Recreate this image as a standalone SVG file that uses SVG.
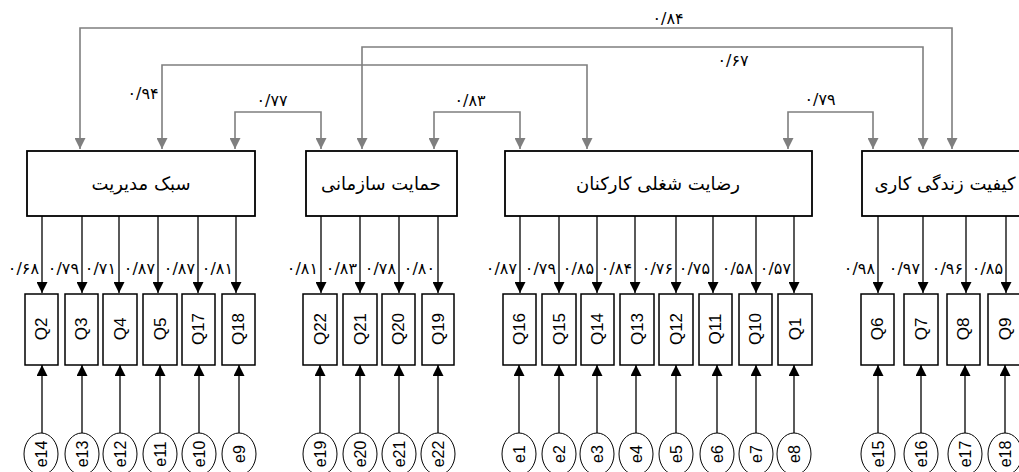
<svg xmlns="http://www.w3.org/2000/svg" width="1019" height="472" viewBox="0 0 1019 472">
<defs>
<marker id="ag" viewBox="0 0 10 10" refX="10" refY="5" markerWidth="11" markerHeight="11" markerUnits="userSpaceOnUse" orient="auto-start-reverse"><path d="M0,0 L10,5 L0,10 z" fill="#7f7f7f"/></marker>
<marker id="ab" viewBox="0 0 10 10" refX="10" refY="5" markerWidth="11" markerHeight="11" markerUnits="userSpaceOnUse" orient="auto"><path d="M0,0 L10,5 L0,10 z" fill="#000"/></marker>
</defs>
<style>
.cor{fill:none;stroke:#7f7f7f;stroke-width:1.6;marker-start:url(#ag);marker-end:url(#ag)}
.ld{fill:none;stroke:#000;stroke-width:1.3;marker-end:url(#ab)}
.fac{fill:#fff;stroke:#000;stroke-width:1.8}
.q{fill:#fff;stroke:#000;stroke-width:1.5}
.e{fill:#fff;stroke:#000;stroke-width:1}
.num{font-family:"DejaVu Sans",sans-serif;font-size:16px;fill:#000}
.title{font-family:"DejaVu Sans",sans-serif;font-size:18px;fill:#000;text-anchor:middle}
.ql{font-family:"Liberation Sans",Arial,sans-serif;font-size:17px;fill:#000;text-anchor:middle}
.el{font-family:"Liberation Sans",Arial,sans-serif;font-size:16px;fill:#000;text-anchor:middle}
</style>
<rect width="1019" height="472" fill="#fff"/>

<g id="connectors">
<path class="cor" d="M80,149 V28 H952 V149"/>
<path class="cor" d="M362,149 V47 H923 V149"/>
<path class="cor" d="M162,149 V65 H587 V149"/>
<path class="cor" d="M235,149 V112 H321 V149"/>
<path class="cor" d="M434,149 V112 H520 V149"/>
<path class="cor" d="M788,149 V112 H873 V149"/>
<text class="num" x="668" y="24" text-anchor="middle">۰/۸۴</text>
<text class="num" x="733" y="66" text-anchor="middle">۰/۶۷</text>
<text class="num" x="820" y="105" text-anchor="middle">۰/۷۹</text>
<text class="num" x="143" y="99" text-anchor="middle">۰/۹۴</text>
<text class="num" x="272" y="106" text-anchor="middle">۰/۷۷</text>
<text class="num" x="470" y="106" text-anchor="middle">۰/۸۳</text>

<path class="ld" d="M42,216 V293"/>
<path class="ld" d="M82,216 V293"/>
<path class="ld" d="M119,216 V293"/>
<path class="ld" d="M158,216 V293"/>
<path class="ld" d="M198,216 V293"/>
<path class="ld" d="M236,216 V293"/>
<path class="ld" d="M321,216 V293"/>
<path class="ld" d="M360,216 V293"/>
<path class="ld" d="M399,216 V293"/>
<path class="ld" d="M438,216 V293"/>
<path class="ld" d="M520,216 V293"/>
<path class="ld" d="M559,216 V293"/>
<path class="ld" d="M597,216 V293"/>
<path class="ld" d="M635,216 V293"/>
<path class="ld" d="M676,216 V293"/>
<path class="ld" d="M713,216 V293"/>
<path class="ld" d="M756,216 V293"/>
<path class="ld" d="M794,216 V293"/>
<path class="ld" d="M878,216 V293"/>
<path class="ld" d="M923,216 V293"/>
<path class="ld" d="M966,216 V293"/>
<path class="ld" d="M1006,216 V293"/>

<g class="num" text-anchor="end">
<text x="39" y="274">۰/۶۸</text>
<text x="79" y="274">۰/۷۹</text>
<text x="116" y="274">۰/۷۱</text>
<text x="155" y="274">۰/۸۷</text>
<text x="195" y="274">۰/۸۷</text>
<text x="233" y="274">۰/۸۱</text>
<text x="318" y="274">۰/۸۱</text>
<text x="357" y="274">۰/۸۳</text>
<text x="396" y="274">۰/۷۸</text>
<text x="435" y="274">۰/۸۰</text>
<text x="517" y="274">۰/۸۷</text>
<text x="556" y="274">۰/۷۹</text>
<text x="594" y="274">۰/۸۵</text>
<text x="632" y="274">۰/۸۴</text>
<text x="673" y="274">۰/۷۶</text>
<text x="710" y="274">۰/۷۵</text>
<text x="753" y="274">۰/۵۸</text>
<text x="791" y="274">۰/۵۷</text>
<text x="875" y="274">۰/۹۸</text>
<text x="920" y="274">۰/۹۷</text>
<text x="963" y="274">۰/۹۶</text>
<text x="1003" y="274">۰/۸۵</text>
</g>

<path class="ld" d="M42,433 V365"/>
<path class="ld" d="M82,433 V365"/>
<path class="ld" d="M120,433 V365"/>
<path class="ld" d="M160,433 V365"/>
<path class="ld" d="M199,433 V365"/>
<path class="ld" d="M239,433 V365"/>
<path class="ld" d="M320,433 V365"/>
<path class="ld" d="M360,433 V365"/>
<path class="ld" d="M399,433 V365"/>
<path class="ld" d="M438,433 V365"/>
<path class="ld" d="M519,433 V365"/>
<path class="ld" d="M559,433 V365"/>
<path class="ld" d="M597,433 V365"/>
<path class="ld" d="M636,433 V365"/>
<path class="ld" d="M676,433 V365"/>
<path class="ld" d="M717,433 V365"/>
<path class="ld" d="M756,433 V365"/>
<path class="ld" d="M794,433 V365"/>
<path class="ld" d="M878,433 V365"/>
<path class="ld" d="M921,433 V365"/>
<path class="ld" d="M965,433 V365"/>
<path class="ld" d="M1005,433 V365"/>
</g>

<g id="f1"><rect class="fac" x="27" y="151" width="228" height="65"/><text class="title" x="141" y="190">سبک مدیریت</text></g>
<g id="f2"><rect class="fac" x="306" y="151" width="151" height="65"/><text class="title" x="381" y="190">حمایت سازمانی</text></g>
<g id="f3"><rect class="fac" x="505" y="151" width="307" height="65"/><text class="title" x="658" y="190">رضایت شغلی کارکنان</text></g>
<g id="f4"><rect class="fac" x="862" y="151" width="170" height="65"/><text class="title" x="945" y="190">کیفیت زندگی کاری</text></g>

<g id="items">
<g id="Q2"><rect class="q" x="25" y="294" width="33" height="71"/><text class="ql" transform="translate(47,329) rotate(-90)">Q2</text></g>
<g id="Q3"><rect class="q" x="65" y="294" width="33" height="71"/><text class="ql" transform="translate(87,329) rotate(-90)">Q3</text></g>
<g id="Q4"><rect class="q" x="103" y="294" width="34" height="71"/><text class="ql" transform="translate(126,329) rotate(-90)">Q4</text></g>
<g id="Q5"><rect class="q" x="143" y="294" width="34" height="71"/><text class="ql" transform="translate(166,329) rotate(-90)">Q5</text></g>
<g id="Q17"><rect class="q" x="182" y="294" width="33" height="71"/><text class="ql" transform="translate(204,329) rotate(-90)">Q17</text></g>
<g id="Q18"><rect class="q" x="222" y="294" width="33" height="71"/><text class="ql" transform="translate(244,329) rotate(-90)">Q18</text></g>
<g id="Q22"><rect class="q" x="303" y="294" width="34" height="71"/><text class="ql" transform="translate(326,329) rotate(-90)">Q22</text></g>
<g id="Q21"><rect class="q" x="343" y="294" width="34" height="71"/><text class="ql" transform="translate(366,329) rotate(-90)">Q21</text></g>
<g id="Q20"><rect class="q" x="382" y="294" width="33" height="71"/><text class="ql" transform="translate(404,329) rotate(-90)">Q20</text></g>
<g id="Q19"><rect class="q" x="422" y="294" width="32" height="71"/><text class="ql" transform="translate(444,329) rotate(-90)">Q19</text></g>
<g id="Q16"><rect class="q" x="503" y="294" width="33" height="71"/><text class="ql" transform="translate(525,329) rotate(-90)">Q16</text></g>
<g id="Q15"><rect class="q" x="542" y="294" width="34" height="71"/><text class="ql" transform="translate(565,329) rotate(-90)">Q15</text></g>
<g id="Q14"><rect class="q" x="581" y="294" width="33" height="71"/><text class="ql" transform="translate(603,329) rotate(-90)">Q14</text></g>
<g id="Q13"><rect class="q" x="620" y="294" width="34" height="71"/><text class="ql" transform="translate(643,329) rotate(-90)">Q13</text></g>
<g id="Q12"><rect class="q" x="659" y="294" width="34" height="71"/><text class="ql" transform="translate(682,329) rotate(-90)">Q12</text></g>
<g id="Q11"><rect class="q" x="699" y="294" width="33" height="71"/><text class="ql" transform="translate(721,329) rotate(-90)">Q11</text></g>
<g id="Q10"><rect class="q" x="739" y="294" width="33" height="71"/><text class="ql" transform="translate(761,329) rotate(-90)">Q10</text></g>
<g id="Q1"><rect class="q" x="778" y="294" width="34" height="71"/><text class="ql" transform="translate(801,329) rotate(-90)">Q1</text></g>
<g id="Q6"><rect class="q" x="861" y="294" width="33" height="71"/><text class="ql" transform="translate(883,329) rotate(-90)">Q6</text></g>
<g id="Q7"><rect class="q" x="904" y="294" width="34" height="71"/><text class="ql" transform="translate(927,329) rotate(-90)">Q7</text></g>
<g id="Q8"><rect class="q" x="947" y="294" width="33" height="71"/><text class="ql" transform="translate(969,329) rotate(-90)">Q8</text></g>
<g id="Q9"><rect class="q" x="988" y="294" width="34" height="71"/><text class="ql" transform="translate(1011,329) rotate(-90)">Q9</text></g>
</g>

<g id="errors">
<g id="e14"><ellipse class="e" cx="41" cy="454" rx="17" ry="21"/><text class="el" transform="translate(47,454) rotate(-90)">e14</text></g>
<g id="e13"><ellipse class="e" cx="82" cy="454" rx="17" ry="21"/><text class="el" transform="translate(88,454) rotate(-90)">e13</text></g>
<g id="e12"><ellipse class="e" cx="120" cy="454" rx="17" ry="21"/><text class="el" transform="translate(126,454) rotate(-90)">e12</text></g>
<g id="e11"><ellipse class="e" cx="160" cy="454" rx="17" ry="21"/><text class="el" transform="translate(166,454) rotate(-90)">e11</text></g>
<g id="e10"><ellipse class="e" cx="199" cy="454" rx="17" ry="21"/><text class="el" transform="translate(205,454) rotate(-90)">e10</text></g>
<g id="e9"><ellipse class="e" cx="239" cy="454" rx="17" ry="21"/><text class="el" transform="translate(245,454) rotate(-90)">e9</text></g>
<g id="e19"><ellipse class="e" cx="320" cy="454" rx="17" ry="21"/><text class="el" transform="translate(326,454) rotate(-90)">e19</text></g>
<g id="e20"><ellipse class="e" cx="360" cy="454" rx="17" ry="21"/><text class="el" transform="translate(366,454) rotate(-90)">e20</text></g>
<g id="e21"><ellipse class="e" cx="399" cy="454" rx="17" ry="21"/><text class="el" transform="translate(405,454) rotate(-90)">e21</text></g>
<g id="e22"><ellipse class="e" cx="438" cy="454" rx="17" ry="21"/><text class="el" transform="translate(444,454) rotate(-90)">e22</text></g>
<g id="e1"><ellipse class="e" cx="519" cy="454" rx="17" ry="21"/><text class="el" transform="translate(525,454) rotate(-90)">e1</text></g>
<g id="e2"><ellipse class="e" cx="559" cy="454" rx="17" ry="21"/><text class="el" transform="translate(565,454) rotate(-90)">e2</text></g>
<g id="e3"><ellipse class="e" cx="597" cy="454" rx="17" ry="21"/><text class="el" transform="translate(603,454) rotate(-90)">e3</text></g>
<g id="e4"><ellipse class="e" cx="636" cy="454" rx="17" ry="21"/><text class="el" transform="translate(642,454) rotate(-90)">e4</text></g>
<g id="e5"><ellipse class="e" cx="676" cy="454" rx="17" ry="21"/><text class="el" transform="translate(682,454) rotate(-90)">e5</text></g>
<g id="e6"><ellipse class="e" cx="717" cy="454" rx="17" ry="21"/><text class="el" transform="translate(723,454) rotate(-90)">e6</text></g>
<g id="e7"><ellipse class="e" cx="756" cy="454" rx="17" ry="21"/><text class="el" transform="translate(762,454) rotate(-90)">e7</text></g>
<g id="e8"><ellipse class="e" cx="794" cy="454" rx="17" ry="21"/><text class="el" transform="translate(800,454) rotate(-90)">e8</text></g>
<g id="e15"><ellipse class="e" cx="878" cy="454" rx="17" ry="21"/><text class="el" transform="translate(884,454) rotate(-90)">e15</text></g>
<g id="e16"><ellipse class="e" cx="921" cy="454" rx="17" ry="21"/><text class="el" transform="translate(927,454) rotate(-90)">e16</text></g>
<g id="e17"><ellipse class="e" cx="965" cy="454" rx="17" ry="21"/><text class="el" transform="translate(971,454) rotate(-90)">e17</text></g>
<g id="e18"><ellipse class="e" cx="1005" cy="454" rx="17" ry="21"/><text class="el" transform="translate(1011,454) rotate(-90)">e18</text></g>
</g>
</svg>
